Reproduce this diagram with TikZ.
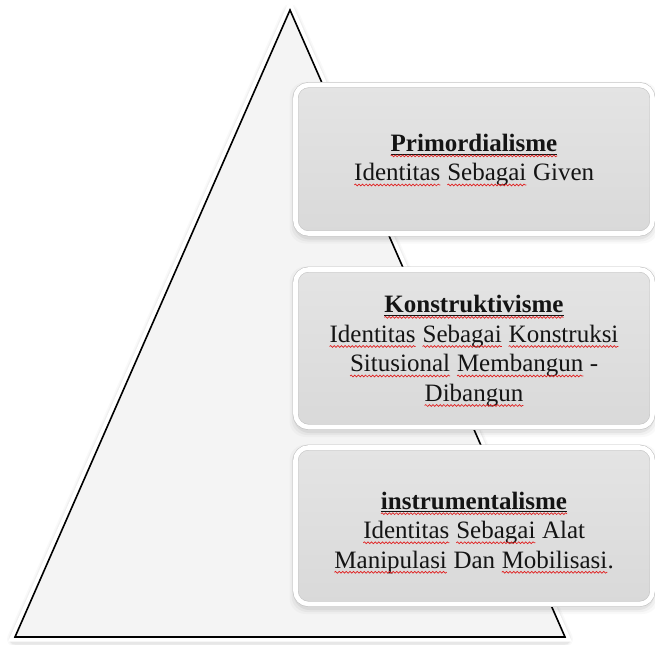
\documentclass[tikz,border=0pt]{standalone}
\usepackage{fontspec}
\setmainfont{Liberation Serif}
\usetikzlibrary{calc,decorations.pathmorphing}
\definecolor{wavered}{HTML}{E02020}
\definecolor{trifill}{HTML}{F4F4F4}
\definecolor{boxtop}{HTML}{E4E4E4}
\definecolor{boxbot}{HTML}{D9D9D9}
\definecolor{bandedge}{HTML}{C4C4C4}
\definecolor{txtcol}{HTML}{141414}
\tikzset{
  wavy/.style={draw=wavered, line width=0.7bp, decorate,
    decoration={snake, amplitude=0.9bp, segment length=3.6bp}},
  pyrbox/.style={rectangle, rounded corners=13bp, minimum width=357bp, inner sep=0pt,
    top color=boxtop, bottom color=boxbot, draw=bandedge, line width=0.6bp,
    double=white, double distance=4.6bp},
  boxtxt/.style={align=center, font=\fontsize{25bp}{29.5bp}\selectfont, text=txtcol, inner sep=0pt},
  shadowpiece/.style={fill=black, rounded corners=16bp}
}
\newcommand\rw[1]{\tikz[baseline=(w.base),x=1bp,y=1bp]{\node[inner sep=0pt,outer sep=0pt,text=txtcol] (w) {#1};
  \draw[wavy] ([yshift=-4bp]w.base west) -- ([yshift=-4bp]w.base east);}}
\newcommand\rwu[1]{\tikz[baseline=(w.base),x=1bp,y=1bp]{\node[inner sep=0pt,outer sep=0pt,text=txtcol] (w) {#1};
  \draw[txtcol, line width=1bp] ([yshift=-2.6bp]w.base west) -- ([yshift=-2.6bp]w.base east);
  \draw[wavy] ([yshift=-4.4bp]w.base west) -- ([yshift=-4.4bp]w.base east);}}
\begin{document}
\begin{tikzpicture}[x=1bp,y=-1bp]
\useasboundingbox (0,0) rectangle (655,645);
\fill[white] (0,0) rectangle (655,645);
% triangle
\coordinate (apex) at (290,10);
\coordinate (bl) at (15,637);
\coordinate (br) at (565,637);
\foreach \w/\o in {16/0.025,13/0.03,11/0.04} {
  \draw[line width=\w bp, black, opacity=\o, line join=round] ($(apex)+(0,2)$) -- ($(bl)+(0,2)$) -- ($(br)+(0,2)$) -- cycle;
}
\draw[line width=9bp, white, line join=miter] (apex) -- (bl) -- (br) -- cycle;
\fill[trifill] (apex) -- (bl) -- (br) -- cycle;
\draw[line width=1.6bp, black, line join=miter] (apex) -- (bl) -- (br) -- cycle;
% box shadows
\foreach \ya/\yb in {85/233.5, 269.5/427, 447.5/604} {
  \foreach \e/\o in {6/0.025,4/0.035,2/0.05} {
    \fill[shadowpiece, opacity=\o] (295.5-\e, \ya+3-\e) rectangle (652.5+\e, \yb+4+\e);
  }
}
% boxes
\node[pyrbox, minimum height=148.5bp] (b1) at (474,159.25) {};
\node[pyrbox, minimum height=157.5bp] (b2) at (474,348.25) {};
\node[pyrbox, minimum height=156.5bp] (b3) at (474,525.75) {};
% texts
\node[boxtxt] (t1) at ($(b1.center)+(0,1)$) {\textbf{\rwu{Primordialisme}}\\\rw{Identitas} \rw{Sebagai} Given};
\node[boxtxt] (t2) at ($(b2.center)+(0,3)$) {\textbf{\rwu{Konstruktivisme}}\\\rw{Identitas} \rw{Sebagai} \rw{Konstruksi}\\\rw{Situsional} \rw{Membangun} -\\\rw{Dibangun}};
\node[boxtxt] (t3) at ($(b3.center)+(0,7)$) {\textbf{\rwu{instrumentalisme}}\\\rw{Identitas} \rw{Sebagai} Alat\\\rw{Manipulasi} Dan \rw{Mobilisasi}.};
\end{tikzpicture}
\end{document}
